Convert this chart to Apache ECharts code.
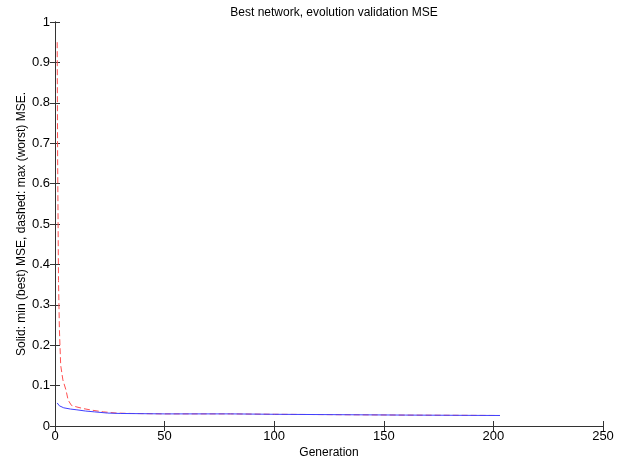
<!DOCTYPE html>
<html>
<head>
<meta charset="utf-8">
<script src="https://cdn.jsdelivr.net/npm/echarts@6/dist/echarts.min.js"></script>
<style>
  html, body { margin: 0; padding: 0; background: #fff; }
  #chart { width: 621px; height: 460px; }
</style>
</head>
<body>
<div id="chart"></div>
<script>
// data: [generation, MSE]
var worstMse = [
  [1, 0.95], [1.2, 0.66], [1.6, 0.36], [2, 0.24], [2.6, 0.15], [3.6, 0.114],
  [5, 0.089], [6, 0.064], [7.5, 0.051], [10, 0.047], [13, 0.043], [17, 0.039],
  [22, 0.035], [28, 0.032], [35, 0.031], [50, 0.030], [80, 0.030], [100, 0.029],
  [130, 0.028], [160, 0.027], [203, 0.026]
]
var bestMse = [
  [1, 0.057], [2, 0.050], [4, 0.045], [7, 0.042], [10, 0.040], [14, 0.037],
  [18, 0.035], [24, 0.032], [30, 0.031], [50, 0.030], [80, 0.030], [100, 0.029],
  [130, 0.028], [160, 0.027], [203, 0.026]
]
var xTicks = [0, 50, 100, 150, 200, 250]
var yTicks = [0, 0.1, 0.2, 0.3, 0.4, 0.5, 0.6, 0.7, 0.8, 0.9, 1]

;(function () {
  var myChart = echarts.init(document.getElementById('chart'))
  var font = 'Liberation Sans, Arial, sans-serif'
  var lineColor = '#333'

  var xBase = {
    type: 'value',
    min: xTicks[0],
    max: xTicks[xTicks.length - 1],
    interval: xTicks[1] - xTicks[0],
    axisLine: { show: true, lineStyle: { color: lineColor, width: 1 } },
    axisTick: { show: true, inside: true, length: 5, lineStyle: { color: lineColor } },
    splitLine: { show: false },
  }
  var yBase = {
    type: 'value',
    min: yTicks[0],
    max: yTicks[yTicks.length - 1],
    interval: 0.1,
    axisLine: { show: true, lineStyle: { color: lineColor, width: 1 } },
    axisTick: { show: true, inside: true, length: 5, lineStyle: { color: lineColor } },
    splitLine: { show: false },
  }

  var option = {
    backgroundColor: '#fff',
    animation: false,
    title: {
      text: 'Best network, evolution validation MSE',
      left: 329,
      top: 2,
      textAlign: 'center',
      textStyle: { fontFamily: font, fontSize: 12, fontWeight: 'normal', color: '#000' },
    },
    grid: { left: 55, right: 18, top: 22, bottom: 34, outerBoundsMode: 'none', containLabel: false },
    xAxis: [
      Object.assign({}, xBase, {
        position: 'bottom',
        name: 'Generation',
        nameLocation: 'middle',
        nameGap: 21,
        nameMoveOverlap: false,
        nameTextStyle: { fontFamily: font, fontSize: 12, color: '#000' },
        axisLabel: { show: true, fontFamily: font, fontSize: 13, color: '#000', margin: 4 },
      }),
      Object.assign({}, xBase, { position: 'top', axisLabel: { show: false } }),
    ],
    yAxis: [
      Object.assign({}, yBase, {
        position: 'left',
        name: 'Solid: min (best) MSE, dashed: max (worst) MSE.',
        nameLocation: 'middle',
        nameGap: 27,
        nameMoveOverlap: false,
        nameTextStyle: { fontFamily: font, fontSize: 12, color: '#000' },
        axisLabel: {
          show: true,
          fontFamily: font,
          fontSize: 13,
          color: '#000',
          margin: 5,
          formatter: function (v) { return String(+v.toFixed(1)) },
        },
      }),
      Object.assign({}, yBase, { position: 'right', axisLabel: { show: false } }),
    ],
    series: [
      {
        name: 'worst',
        type: 'line',
        data: worstMse,
        showSymbol: false,
        symbol: 'none',
        lineStyle: { color: '#ff5050', width: 1, type: [6, 3] },
        z: 2,
      },
      {
        name: 'best',
        type: 'line',
        data: bestMse,
        showSymbol: false,
        symbol: 'none',
        lineStyle: { color: '#4040ff', width: 1 },
        z: 3,
      },
    ],
  }
  myChart.setOption(option)
})()
</script>
</body>
</html>
